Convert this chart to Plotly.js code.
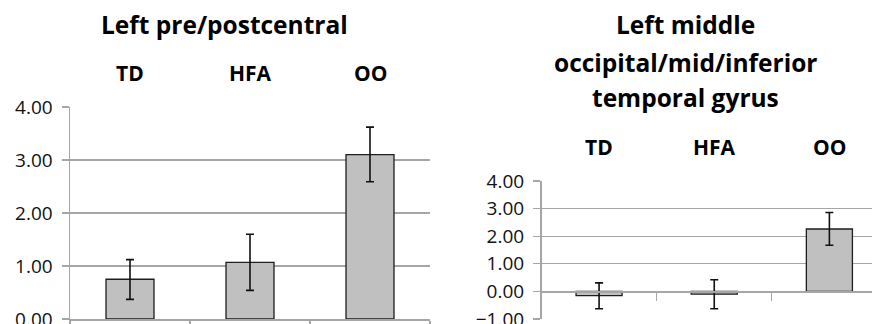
<!DOCTYPE html>
<html>
<head>
<meta charset="utf-8">
<script src="https://cdn.plot.ly/plotly-3.0.1.min.js"></script>
<style>html,body{margin:0;padding:0;background:#fff;overflow:hidden;}#wrap{width:872px;height:324px;overflow:hidden;}#chart{width:872px;height:350px;}</style>
</head>
<body>
<div id="wrap"><div id="chart"></div></div>
<script>
var categories = ['TD', 'HFA', 'OO'];
var leftTitle = 'Left pre/postcentral';
var rightTitleLines = ['Left middle', 'occipital/mid/inferior', 'temporal gyrus'];
var leftValues = [0.75, 1.07, 3.10];
var leftErrPlus = [0.37, 0.53, 0.52];
var leftErrMinus = [0.38, 0.53, 0.51];
var rightValues = [-0.15, -0.10, 2.26];
var rightErrPlus = [0.46, 0.52, 0.60];
var rightErrMinus = [0.48, 0.53, 0.59];

var W = 872, H = 350;
function px(x){ return x / W; }
function py(y){ return 1 - y / H; }

var FONT = 'Open Sans, DejaVu Sans, sans-serif';
var GRID = '#a6a6a6';

function barTrace(vals, ep, em, xa, ya){
  return {
    type: 'bar', x: categories, y: vals, xaxis: xa, yaxis: ya,
    width: 0.4,
    marker: {color: '#c0c0c0', line: {color: '#1e1e1e', width: 1.3}},
    error_y: {type: 'data', symmetric: false, array: ep, arrayminus: em,
              color: '#111', thickness: 1.6, width: 4},
    hoverinfo: 'skip', showlegend: false
  };
}

var data = [
  barTrace(leftValues, leftErrPlus, leftErrMinus, 'x', 'y'),
  barTrace(rightValues, rightErrPlus, rightErrMinus, 'x2', 'y2')
];

function yax(domain, range){
  return {
    domain: domain, range: range, dtick: 1, tickformat: '.2f',
    showgrid: true, gridcolor: GRID, gridwidth: 1.3,
    showline: true, linecolor: GRID, linewidth: 1.5,
    ticks: 'outside', ticklen: 7, tickcolor: GRID, tickwidth: 1.3,
    ticklabelstandoff: 5,
    zeroline: false, fixedrange: true,
    tickfont: {family: FONT, size: 19, color: '#111'}
  };
}

var layout = {
  width: W, height: H,
  margin: {l: 0, r: 0, t: 0, b: 0},
  paper_bgcolor: '#fff', plot_bgcolor: '#fff',
  xaxis: {
    domain: [px(70), px(430)], anchor: 'y', type: 'category',
    categoryorder: 'array', categoryarray: categories,
    range: [-0.5, 2.5], tickson: 'boundaries', showticklabels: false,
    ticks: 'outside', ticklen: 8, tickcolor: GRID, tickwidth: 1.3,
    showline: true, linecolor: GRID, linewidth: 1.5, showgrid: false, fixedrange: true
  },
  yaxis: yax([py(319), py(107)], [0, 4]),
  xaxis2: {
    domain: [px(541.5), 1], anchor: 'free', position: py(291.4), type: 'category',
    categoryorder: 'array', categoryarray: categories,
    range: [-0.5, 2.37], tickson: 'boundaries', showticklabels: false,
    ticks: 'outside', ticklen: 8, tickcolor: GRID, tickwidth: 1.3,
    showline: true, linecolor: GRID, linewidth: 1.5, showgrid: false, fixedrange: true
  },
  yaxis2: yax([py(319), py(181)], [-1, 4]),
  annotations: []
};
layout.yaxis2.anchor = 'x2';

function ann(text, x, xref, ycen, size){
  return {text: text, x: x, xref: xref, y: py(ycen), yref: 'paper',
          xanchor: 'center', yanchor: 'middle', showarrow: false,
          font: {family: FONT, size: size, color: '#000'}};
}

layout.annotations.push(ann('<b>' + leftTitle + '</b>', px(225), 'paper', 25, 24.5));
for (var i = 0; i < rightTitleLines.length; i++) {
  layout.annotations.push(ann('<b>' + rightTitleLines[i] + '</b>', px(685), 'paper', [25, 62, 97][i], 24.5));
}
categories.forEach(function(c){
  layout.annotations.push(ann('<b>' + c + '</b>', c, 'x', 73, 21));
  layout.annotations.push(ann('<b>' + c + '</b>', c, 'x2', 147, 21));
});

Plotly.newPlot('chart', data, layout, {displayModeBar: false, staticPlot: true});
</script>
</body>
</html>
